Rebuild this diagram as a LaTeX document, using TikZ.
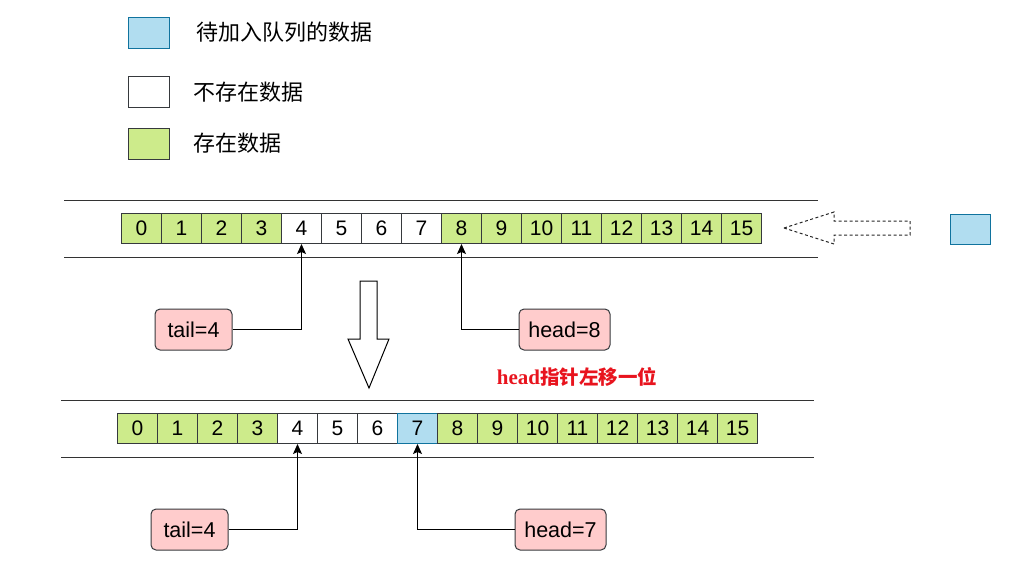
\documentclass[tikz,border=0pt]{standalone}
\usepackage{fontspec}
\setmainfont{Liberation Sans}
\newfontfamily\cjk{Noto Sans CJK SC}
\newfontfamily\serifb{Liberation Serif}
\usetikzlibrary{arrows.meta}
\definecolor{gfill}{HTML}{CDEB8B}
\definecolor{bfill}{HTML}{B1DDF0}
\definecolor{bstroke}{HTML}{10739E}
\definecolor{pfill}{HTML}{FFCCCC}
\definecolor{dstroke}{HTML}{36393D}
\definecolor{redtxt}{HTML}{E8141E}
\tikzset{
  cell/.style={draw=dstroke, line width=1pt, minimum width=40pt, minimum height=30pt, inner sep=0pt, anchor=north west, font=\fontsize{21}{21}\selectfont},
  gcell/.style={cell, fill=gfill},
  wcell/.style={cell, fill=white},
  bcell/.style={cell, fill=bfill, draw=bstroke},
  lab/.style={draw=dstroke, fill=pfill, line width=1pt, rounded corners=5pt, inner sep=0pt, minimum height=41pt, font=\fontsize{21.5}{21.5}\selectfont},
  leg/.style={line width=1pt, minimum width=41pt, minimum height=31pt, inner sep=0pt, anchor=north west},
  legtxt/.style={anchor=west, inner sep=0pt, font=\cjk\fontsize{22}{22}\selectfont},
  rail/.style={draw=black!80, line width=1pt},
  ptr/.style={draw=black, line width=1pt, -{Stealth[length=10pt,width=9pt,inset=2pt]}},
}
\begin{document}
\begin{tikzpicture}[x=1pt,y=-1pt]
\useasboundingbox (0,0) rectangle (1017,581);
% legend
\node[leg, draw=bstroke, fill=bfill] (l1) at (128,17) {};
\node[legtxt] (t1) at (196,32) {待加入队列的数据};
\node[leg, draw=dstroke, fill=white] (l2) at (128,76) {};
\node[legtxt] (t2) at (193,92) {不存在数据};
\node[leg, draw=dstroke, fill=gfill] (l3) at (128,128) {};
\node[legtxt] (t3) at (193,143) {存在数据};
% top rails
\draw[rail] (64,200) -- (818,200);
\draw[rail] (64,257) -- (818,257);
% top array
\foreach \i in {0,...,3} {\node[gcell] (a\i) at (121+\i*40,213) {\i};}
\foreach \i in {4,...,7} {\node[wcell] (a\i) at (121+\i*40,213) {\i};}
\foreach \i in {8,...,15} {\node[gcell] (a\i) at (121+\i*40,213) {\i};}
% dashed incoming arrow
\draw[dash pattern=on 3pt off 2.5pt, line width=1pt, draw=black!85] (784,228) -- (834,212) -- (834,221) -- (910,221) -- (910,235) -- (834,235) -- (834,244) -- cycle;
\node[leg, draw=bstroke, fill=bfill, minimum height=30pt, minimum width=40pt] (nb) at (950,214) {};
% top labels
\node[lab, minimum width=77pt] (tailA) at (193.5,329.5) {tail=4};
\node[lab, minimum width=91pt] (headA) at (564.5,329.5) {head=8};
\draw[ptr] (tailA.east) -| (a4.south);
\draw[ptr] (headA.west) -| (a8.south);
% hollow down arrow
\draw[line width=1pt, fill=white] (360,281) -- (377,281) -- (377,339) -- (389,339) -- (369,388) -- (348,339) -- (360,339) -- cycle;
\node[text=redtxt, inner sep=0pt] (note) at (577,377) {\serifb\bfseries\fontsize{21}{21}\selectfont head\cjk\bfseries\fontsize{19.5}{19.5}\selectfont 指针左移一位};
% bottom rails
\draw[rail] (61,400) -- (814,400);
\draw[rail] (61,457) -- (814,457);
% bottom array
\foreach \i in {0,...,3} {\node[gcell] (b\i) at (117+\i*40,413) {\i};}
\foreach \i in {4,...,6} {\node[wcell] (b\i) at (117+\i*40,413) {\i};}
\node[bcell] (b7) at (117+7*40,413) {7};
\foreach \i in {8,...,15} {\node[gcell] (b\i) at (117+\i*40,413) {\i};}
% bottom labels
\node[lab, minimum width=77pt] (tailB) at (189.5,529.5) {tail=4};
\node[lab, minimum width=91pt] (headB) at (560.5,529.5) {head=7};
\draw[ptr] (tailB.east) -| (b4.south);
\draw[ptr] (headB.west) -| (b7.south);
\end{tikzpicture}
\end{document}
